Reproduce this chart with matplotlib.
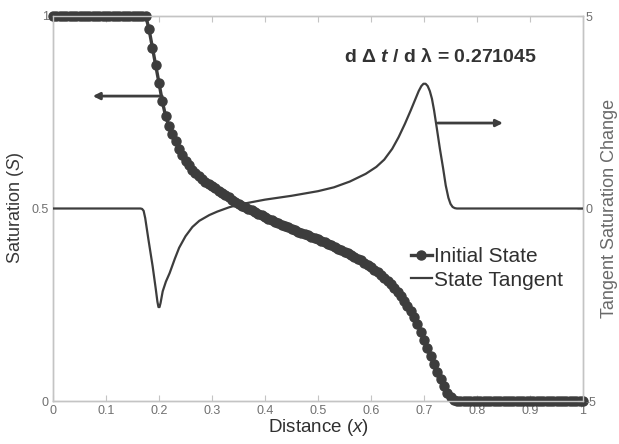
import numpy as np
import matplotlib
matplotlib.use("Agg")
import matplotlib.pyplot as plt
from matplotlib import font_manager as fm

names = {f.name for f in fm.fontManager.ttflist}
NARROW = "Liberation Sans Narrow" if "Liberation Sans Narrow" in names else "Liberation Sans"

plt.rcParams["font.family"] = ["Liberation Sans", "DejaVu Sans"]
plt.rcParams["mathtext.fontset"] = "custom"
plt.rcParams["mathtext.rm"] = "Liberation Sans"
plt.rcParams["mathtext.it"] = "Liberation Sans:italic"
plt.rcParams["mathtext.bf"] = "Liberation Sans:bold"
plt.rcParams["mathtext.bfit"] = "Liberation Sans:bold:italic"

# ---------------- data ----------------
n_pts = 161
distance = np.linspace(0.0, 1.0, n_pts)
sat_front = [
    0.965, 0.918, 0.872, 0.826, 0.778, 0.740, 0.714, 0.694, 0.675, 0.655,
    0.638, 0.624, 0.612, 0.601, 0.592, 0.584, 0.577, 0.570, 0.564, 0.558,
    0.552, 0.546, 0.541, 0.535, 0.529, 0.523, 0.516, 0.511, 0.507, 0.503,
    0.499, 0.495, 0.490, 0.486, 0.482, 0.478, 0.474, 0.470, 0.466, 0.462,
    0.458, 0.454, 0.451, 0.447, 0.444, 0.440, 0.437, 0.433, 0.430, 0.427,
    0.423, 0.420, 0.416, 0.412, 0.408, 0.404, 0.400, 0.396, 0.392, 0.388,
    0.384, 0.380, 0.375, 0.370, 0.365, 0.359, 0.353, 0.347, 0.341, 0.334,
    0.327, 0.320, 0.312, 0.303, 0.294, 0.284, 0.273, 0.261, 0.248, 0.234,
    0.218, 0.200, 0.180, 0.158, 0.137, 0.116, 0.095, 0.075, 0.056, 0.038,
    0.022, 0.010, 0.003,
]
saturation = [1.0] * 29 + sat_front + [0.0] * 39

tangent_x = [0.0, 0.165, 0.168, 0.171, 0.174, 0.180, 0.188, 0.194, 0.197, 0.199,
             0.201, 0.203, 0.207, 0.213, 0.220, 0.230, 0.238, 0.250, 0.263, 0.276,
             0.295, 0.310, 0.332, 0.350, 0.400, 0.450, 0.500, 0.530, 0.560, 0.590,
             0.610, 0.625, 0.640, 0.652, 0.664, 0.675, 0.684, 0.690, 0.695, 0.699,
             0.703, 0.707, 0.711, 0.715, 0.719, 0.724, 0.730, 0.736, 0.741, 0.746,
             0.750, 0.754, 0.758, 0.762, 1.0]
tangent_y = [0.0, 0.0, -0.01, -0.06, -0.25, -0.80, -1.50, -2.10, -2.42, -2.56,
             -2.56, -2.45, -2.15, -1.90, -1.68, -1.30, -1.02, -0.72, -0.48, -0.32,
             -0.17, -0.08, 0.03, 0.10, 0.23, 0.33, 0.45, 0.55, 0.70, 0.90,
             1.08, 1.27, 1.55, 1.85, 2.20, 2.55, 2.85, 3.05, 3.18, 3.24,
             3.24, 3.18, 3.05, 2.85, 2.55, 2.10, 1.55, 1.05, 0.60, 0.28,
             0.12, 0.04, 0.01, 0.0, 0.0]

x_ticks = [0, 0.1, 0.2, 0.3, 0.4, 0.5, 0.6, 0.7, 0.8, 0.9, 1]
x_tick_labels = ["0", "0.1", "0.2", "0.3", "0.4", "0.5", "0.6", "0.7", "0.8", "0.9", "1"]
left_ticks = [0, 0.5, 1]
left_tick_labels = ["0", "0.5", "1"]
right_ticks = [-5, 0, 5]
right_tick_labels = ["-5", "0", "5"]

# ---------------- figure ----------------
W, H = 619, 444
fig = plt.figure(figsize=(W / 100, H / 100), dpi=100)
ax = fig.add_axes([53 / W, 1 - 401 / H, 530 / W, 385 / H])
ax2 = ax.twinx()

dark = "#3d3d3d"
spine_c = "#c4c4c4"
tick_c = "#707070"

l1, = ax.plot(distance, saturation, "-o", color=dark, lw=2.4, ms=6.5,
              mfc=dark, mec=dark, clip_on=False, zorder=3, label="Initial State")
l2, = ax2.plot(tangent_x, tangent_y, "-", color=dark, lw=1.6, label="State Tangent",
               zorder=3)

ax.set_xlim(0, 1)
ax.set_ylim(0, 1)
ax2.set_ylim(-5, 5)

for a in (ax, ax2):
    for s in a.spines.values():
        s.set_color(spine_c)
        s.set_linewidth(1.0)

ax.set_xticks(x_ticks)
ax.set_xticklabels(x_tick_labels, family=NARROW, fontsize=9, color=tick_c)
ax.set_yticks(left_ticks)
ax.set_yticklabels(left_tick_labels, family=NARROW, fontsize=9, color=tick_c)
ax.tick_params(axis="both", direction="in", length=4, color=spine_c, pad=3,
               top=True, right=False)
ax2.set_yticks(right_ticks)
ax2.set_yticklabels(right_tick_labels, family=NARROW, fontsize=9, color=tick_c)
ax2.tick_params(axis="y", direction="in", length=4, color=spine_c, pad=2)

ax.set_xlabel("Distance ($\\mathit{x}$)", family=NARROW, fontsize=13.5, color="#303030",
              labelpad=0)
ax.set_ylabel("Saturation ($\\mathit{S}$)", fontsize=13, color="#383838", labelpad=4)
ax2.set_ylabel("Tangent Saturation Change", fontsize=13, color="#6a6a6a", labelpad=3)

ax.text(0.73, 0.893, "d Δ $\\mathbfit{t}$ / d λ = 0.271045", ha="center", va="center",
        fontsize=14, fontweight="bold", color="#333333")

arrow_kw = dict(arrowstyle="-|>", lw=2.0, color=dark, mutation_scale=10,
                shrinkA=0, shrinkB=0)
ax.annotate("", xy=(0.075, 0.792), xytext=(0.206, 0.792), arrowprops=arrow_kw)
ax.annotate("", xy=(0.849, 0.722), xytext=(0.726, 0.722), arrowprops=arrow_kw)

leg = ax.legend([l1, l2], ["Initial State", "State Tangent"], loc="center left",
                bbox_to_anchor=(0.675, 0.344), frameon=False, borderpad=0,
                borderaxespad=0, handlelength=1.0, handletextpad=0.12,
                labelspacing=0.2, prop={"family": NARROW, "size": 15})
for t in leg.get_texts():
    t.set_color("#303030")

fig.savefig("out.png", dpi=100)
